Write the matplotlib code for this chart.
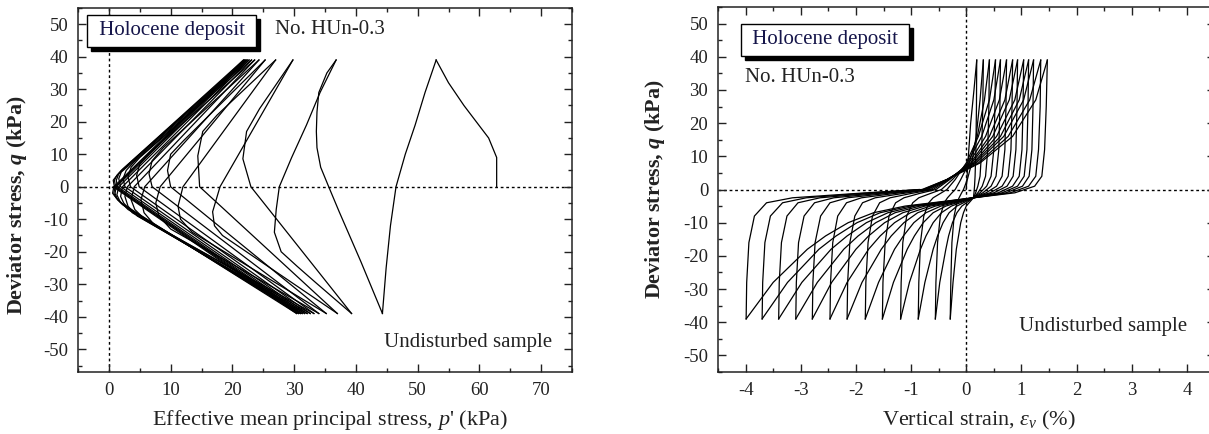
import matplotlib
matplotlib.use("Agg")
import matplotlib.pyplot as plt
from matplotlib.ticker import MultipleLocator
from matplotlib.patches import Rectangle
from matplotlib.transforms import IdentityTransform

plt.rcParams["font.family"] = "Liberation Serif"
plt.rcParams["axes.unicode_minus"] = False
plt.rcParams["mathtext.fontset"] = "custom"
plt.rcParams["mathtext.rm"] = "Liberation Serif"
plt.rcParams["mathtext.it"] = "Liberation Serif:italic"
plt.rcParams["mathtext.bf"] = "Liberation Serif:bold"
plt.rcParams["mathtext.bfit"] = "Liberation Serif:italic:bold"

# ---------------- left panel: effective stress path (p', q) ----------------
# first loading from the consolidated state
path_start = [(62.8, 0), (62.8, 9), (61.5, 15), (59.9, 19), (57.5, 25), (55.0, 32), (53.0, 39)]

# unloading branches, compression peak -> extension peak
path_unload = [
    [(53.0, 39), (51.2, 29), (49.6, 19), (48.0, 10), (46.5, 0), (45.6, -12), (44.9, -25), (44.3, -39)],
    [(36.8, 39), (34.2, 29), (32.0, 19), (29.6, 9), (27.6, 0), (27.1, -7), (26.8, -14), (27.9, -20),
     (30.5, -24.5), (33.5, -29.5), (39.3, -39)],
    [(29.8, 39), (18.0, 0), (16.8, -7.7), (17.1, -12), (18.4, -15), (37.0, -39)],
    [(27.0, 39), (12.0, 0), (11.2, -6), (11.6, -10), (13.5, -14), (35.2, -39)],
    [(25.3, 39), (8.3, 0), (7.6, -5), (8.1, -9), (10.0, -13), (34.0, -39)],
    [(24.3, 39), (5.8, 0), (5.2, -4), (5.7, -8), (7.5, -12), (33.2, -39)],
    [(23.6, 39), (4.1, 0), (3.6, -4), (4.2, -7), (5.8, -10), (32.6, -39)],
    [(23.1, 39), (3.0, 0), (2.6, -3), (3.1, -6), (4.6, -9), (32.1, -39)],
    [(22.7, 39), (2.2, 0), (1.9, -3), (2.4, -5), (3.8, -8), (31.7, -39)],
    [(22.4, 39), (1.6, 0), (1.3, -2.5), (1.8, -4.5), (3.1, -7), (31.3, -39)],
    [(22.2, 39), (1.2, 0), (1.0, -2), (1.4, -4), (2.6, -6), (31.0, -39)],
    [(22.0, 39), (1.0, 0), (0.8, -2), (1.2, -3.5), (2.2, -5.5), (30.7, -39)],
    [(21.8, 39), (0.8, 0), (0.6, -2), (1.0, -3), (2.0, -5), (30.4, -39)],
]

# reloading branches, extension peak -> next compression peak
path_reload = [
    [(44.3, -39), (40.8, -23), (37.3, -7.7), (35.6, 0), (34.3, 6), (33.7, 12), (33.6, 17), (33.7, 23),
     (34.0, 29), (35.3, 35), (36.8, 39)],
    [(39.3, -39), (23.0, 0), (21.7, 8.6), (22.3, 17), (24.4, 24), (29.8, 39)],
    [(37.0, -39), (14.7, 0), (14.4, 9.5), (15.2, 17), (17.5, 22), (27.0, 39)],
    [(35.2, -39), (10.0, 0), (9.5, 5), (10.0, 10), (12.0, 14), (25.3, 39)],
    [(34.0, -39), (7.0, 0), (6.5, 4), (7.0, 8), (8.8, 12), (24.3, 39)],
    [(33.2, -39), (4.9, 0), (4.5, 3.5), (5.0, 7), (6.6, 10.5), (23.6, 39)],
    [(32.6, -39), (3.5, 0), (3.1, 3), (3.6, 6), (5.0, 9), (23.1, 39)],
    [(32.1, -39), (2.6, 0), (2.3, 2.5), (2.8, 5), (4.0, 7.5), (22.7, 39)],
    [(31.7, -39), (1.9, 0), (1.6, 2.5), (2.0, 4.5), (3.2, 6.5), (22.4, 39)],
    [(31.3, -39), (1.4, 0), (1.2, 2), (1.6, 4), (2.7, 6), (22.2, 39)],
    [(31.0, -39), (1.1, 0), (0.9, 2), (1.3, 3.5), (2.3, 5.5), (22.0, 39)],
    [(30.7, -39), (0.9, 0), (0.7, 2), (1.1, 3), (2.0, 5), (21.8, 39)],
    [(30.4, -39), (0.7, 0)],
]

# ---------------- right panel: q vs vertical strain ----------------
strain_start = [0.0, 0.03, 0.08, 0.14, 0.19]
q_start = [0, 8, 20, 30, 39]

# strain read at fixed q levels along each unloading branch
q_unload = [39, 25, 12, 4, 1, -1, -2.5, -5, -7, -10, -14, -18, -28, -39]
strain_unload = [
    [0.19, 0.185, 0.175, 0.16, 0.15, 0.14, 0.13, 0.00, -0.05, -0.10, -0.14, -0.18, -0.24, -0.29],
    [0.31, 0.30, 0.28, 0.25, 0.21, 0.17, 0.13, -0.08, -0.17, -0.25, -0.32, -0.37, -0.48, -0.56],
    [0.42, 0.41, 0.39, 0.35, 0.29, 0.21, 0.13, -0.17, -0.31, -0.42, -0.52, -0.60, -0.75, -0.87],
    [0.53, 0.52, 0.50, 0.45, 0.37, 0.25, 0.13, -0.27, -0.45, -0.60, -0.73, -0.83, -1.03, -1.19],
    [0.62, 0.61, 0.59, 0.54, 0.45, 0.30, 0.13, -0.37, -0.60, -0.78, -0.94, -1.07, -1.32, -1.52],
    [0.73, 0.72, 0.70, 0.65, 0.55, 0.36, 0.13, -0.46, -0.73, -0.95, -1.14, -1.30, -1.59, -1.83],
    [0.84, 0.83, 0.81, 0.76, 0.65, 0.43, 0.13, -0.56, -0.88, -1.13, -1.36, -1.54, -1.89, -2.16],
    [0.93, 0.92, 0.90, 0.85, 0.74, 0.50, 0.13, -0.65, -1.01, -1.30, -1.56, -1.77, -2.16, -2.47],
    [1.04, 1.03, 1.01, 0.96, 0.84, 0.58, 0.13, -0.75, -1.15, -1.48, -1.77, -2.00, -2.44, -2.79],
    [1.13, 1.12, 1.10, 1.05, 0.93, 0.65, 0.13, -0.84, -1.29, -1.64, -1.96, -2.22, -2.70, -3.09],
    [1.22, 1.21, 1.19, 1.14, 1.02, 0.72, 0.13, -0.93, -1.42, -1.81, -2.16, -2.45, -2.98, -3.40],
    [1.35, 1.34, 1.31, 1.26, 1.13, 0.80, 0.13, -1.02, -1.56, -1.98, -2.36, -2.67, -3.24, -3.70],
    [1.47, 1.45, 1.42, 1.37, 1.24, 0.88, 0.13, -1.11, -1.68, -2.14, -2.55, -2.88, -3.50, -3.99],
]

# strain read at fixed q levels along each reloading branch
q_reload = [-39, -28, -16, -8, -4, -2.5, -1.2, 0, 3, 8, 16, 27, 39]
strain_reload = [
    [-0.29, -0.28, -0.26, -0.22, -0.17, -0.13, -0.09, -0.05, 0.02, 0.10, 0.18, 0.25, 0.31],
    [-0.56, -0.55, -0.52, -0.47, -0.40, -0.34, -0.27, -0.20, -0.10, 0.05, 0.20, 0.33, 0.42],
    [-0.87, -0.86, -0.83, -0.77, -0.68, -0.60, -0.47, -0.35, -0.20, 0.00, 0.22, 0.42, 0.53],
    [-1.19, -1.18, -1.15, -1.08, -0.97, -0.86, -0.65, -0.45, -0.25, 0.02, 0.28, 0.50, 0.62],
    [-1.52, -1.51, -1.47, -1.40, -1.28, -1.13, -0.85, -0.55, -0.30, 0.05, 0.35, 0.60, 0.73],
    [-1.83, -1.82, -1.78, -1.70, -1.57, -1.38, -1.00, -0.60, -0.32, 0.08, 0.42, 0.70, 0.84],
    [-2.16, -2.15, -2.11, -2.02, -1.88, -1.65, -1.15, -0.65, -0.33, 0.10, 0.48, 0.78, 0.93],
    [-2.47, -2.46, -2.42, -2.33, -2.17, -1.90, -1.30, -0.70, -0.34, 0.13, 0.55, 0.88, 1.04],
    [-2.79, -2.78, -2.74, -2.64, -2.47, -2.15, -1.45, -0.72, -0.35, 0.15, 0.62, 0.96, 1.13],
    [-3.09, -3.08, -3.04, -2.94, -2.75, -2.40, -1.60, -0.75, -0.35, 0.18, 0.68, 1.04, 1.22],
    [-3.40, -3.39, -3.35, -3.25, -3.05, -2.65, -1.75, -0.78, -0.35, 0.22, 0.76, 1.15, 1.35],
    [-3.70, -3.69, -3.65, -3.55, -3.33, -2.90, -1.90, -0.80, -0.35, 0.25, 0.84, 1.26, 1.47],
    [-3.99, -3.98, -3.94, -3.84, -3.62, -3.15, -2.00, -0.85],
]

LW = 0.9
TXT = "#222222"


def style_axes(ax, xlim, ylim, xmaj, xmin):
    ax.set_xlim(*xlim)
    ax.set_ylim(*ylim)
    ax.xaxis.set_major_locator(MultipleLocator(xmaj))
    ax.xaxis.set_minor_locator(MultipleLocator(xmin))
    ax.yaxis.set_major_locator(MultipleLocator(10))
    ax.yaxis.set_minor_locator(MultipleLocator(5))
    ax.tick_params(which="both", direction="in", top=True, right=True,
                   labelsize=13.5, colors=TXT, pad=7)
    ax.tick_params(which="major", length=6, width=1)
    ax.tick_params(which="minor", length=3, width=1)
    for sp in ax.spines.values():
        sp.set_linewidth(1.1)
        sp.set_color(TXT)


def label_box(ax, x, y, s):
    t = ax.text(x, y, s, transform=ax.transAxes, ha="center", va="center", fontsize=15,
                color="#15154a", zorder=6,
                bbox=dict(boxstyle="square,pad=0.3", fc="white", ec="black", lw=1))
    return t


fig = plt.figure(figsize=(12.09, 4.34), dpi=100)
ax1 = fig.add_axes([78 / 1209, 62 / 434, 494 / 1209, 364 / 434])
ax2 = fig.add_axes([718 / 1209, 62 / 434, 496.5 / 1209, 365 / 434])

# left panel
ax1.axhline(0, color="black", lw=1, ls=(0, (2, 2)), zorder=1)
ax1.axvline(0, color="black", lw=1, ls=(0, (2, 2)), zorder=1)
ax1.plot([p for p, q in path_start], [q for p, q in path_start], color="black", lw=LW)
for br in path_unload + path_reload:
    ax1.plot([p for p, q in br], [q for p, q in br], color="black", lw=LW)
style_axes(ax1, (-5, 75), (-57, 55), 10, 5)
ax1.set_xlabel("Effective mean principal stress, $p$' (kPa)", fontsize=16, color=TXT)
ax1.xaxis.set_label_coords(0.51, -0.1)
ax1.set_ylabel(r"Deviator stress, $\mathbfit{q}$ (kPa)", fontsize=15.8,
               fontweight="bold", color=TXT)
ax1.yaxis.set_label_coords(-0.099, 0.459)
box1 = label_box(ax1, 0.19, 0.937, " Holocene deposit ")
ax1.text(0.399, 0.94, "No. HUn-0.3", transform=ax1.transAxes, fontsize=15,
         ha="left", va="center", color=TXT)
ax1.text(0.96, 0.08, "Undisturbed sample", transform=ax1.transAxes, fontsize=15,
         ha="right", va="center", color=TXT)

# right panel
ax2.axhline(0, color="black", lw=1, ls=(0, (2, 2)), zorder=1)
ax2.axvline(0, color="black", lw=1, ls=(0, (2, 2)), zorder=1)
ax2.plot(strain_start, q_start, color="black", lw=LW)
for row in strain_unload:
    ax2.plot(row, q_unload[:len(row)], color="black", lw=LW)
for row in strain_reload:
    ax2.plot(row, q_reload[:len(row)], color="black", lw=LW)
style_axes(ax2, (-4.5, 4.5), (-55, 55), 1, 0.5)
ax2.set_xlabel(r"Vertical strain, $\varepsilon_v$ (%)", fontsize=16, color=TXT)
ax2.xaxis.set_label_coords(0.525, -0.1)
ax2.set_ylabel(r"Deviator stress, $\mathbfit{q}$ (kPa)", fontsize=15.8,
               fontweight="bold", color=TXT)
ax2.yaxis.set_label_coords(-0.103, 0.5)
box2 = label_box(ax2, 0.2155, 0.91, " Holocene deposit ")
ax2.text(0.054, 0.806, "No. HUn-0.3", transform=ax2.transAxes, fontsize=15,
         ha="left", va="center", color=TXT)
ax2.text(0.945, 0.124, "Undisturbed sample", transform=ax2.transAxes, fontsize=15,
         ha="right", va="center", color=TXT)

# drop shadows behind the two label boxes (pixel offset 4 right / 4 down)
fig.canvas.draw()
for ax, box in ((ax1, box1), (ax2, box2)):
    bb = box.get_bbox_patch().get_window_extent()
    ax.add_artist(Rectangle((bb.x0 + 4, bb.y0 - 4), bb.width, bb.height,
                            transform=IdentityTransform(), fc="black", ec="black",
                            zorder=5, clip_on=False))

fig.savefig("out.png", dpi=100)
